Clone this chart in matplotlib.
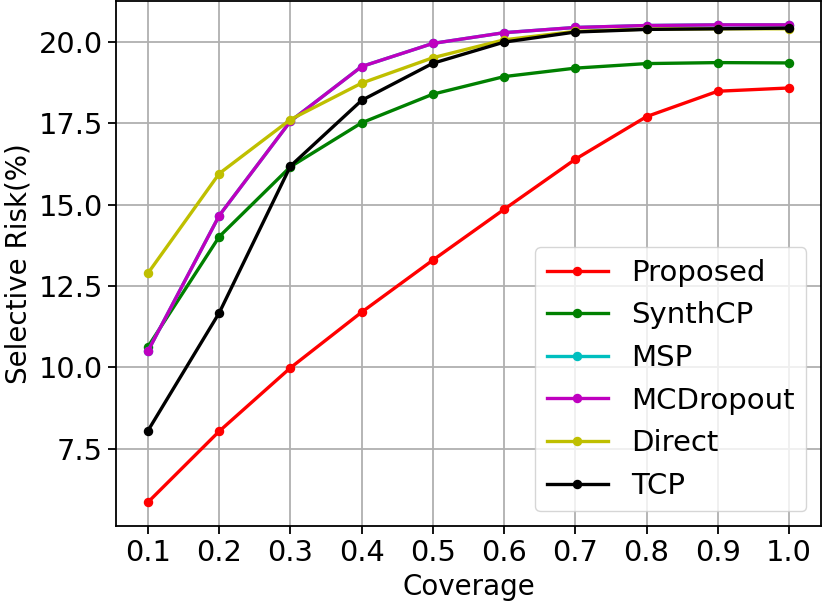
import matplotlib
matplotlib.use("Agg")
import matplotlib.pyplot as plt
import numpy as np

coverage = [0.1, 0.2, 0.3, 0.4, 0.5, 0.6, 0.7, 0.8, 0.9, 1.0]
proposed = [5.86, 8.04, 9.99, 11.70, 13.30, 14.86, 16.40, 17.71, 18.49, 18.59]
synthcp = [10.64, 14.02, 16.17, 17.52, 18.40, 18.94, 19.20, 19.34, 19.37, 19.36]
msp = [10.51, 14.67, 17.57, 19.25, 19.96, 20.29, 20.45, 20.51, 20.53, 20.53]
mcdropout = [10.51, 14.67, 17.57, 19.25, 19.96, 20.29, 20.45, 20.51, 20.53, 20.53]
direct = [12.90, 15.96, 17.62, 18.74, 19.52, 20.07, 20.33, 20.40, 20.41, 20.41]
tcp = [8.06, 11.68, 16.19, 18.21, 19.35, 20.00, 20.31, 20.39, 20.41, 20.43]

series = [
    ("Proposed", proposed, "r"),
    ("SynthCP", synthcp, "g"),
    ("MSP", msp, "c"),
    ("MCDropout", mcdropout, "m"),
    ("Direct", direct, "y"),
    ("TCP", tcp, "k"),
]

plt.rcParams['font.family'] = ['DejaVu Sans']
plt.rcParams['font.size'] = 20
fig = plt.figure(figsize=(8.22, 6.05), dpi=100)
ax = fig.add_axes([116/822, 1 - 526/605, (821-116)/822, (526-1)/605])

for name, vals, col in series:
    ax.plot(coverage, vals, color=col, marker='o', lw=2.4, ms=5.8, label=name)

ax.set_xticks(coverage)
ax.set_xticklabels([f"{c:.1f}" for c in coverage])
ax.set_yticks([7.5, 10.0, 12.5, 15.0, 17.5, 20.0])
ax.set_yticklabels(["7.5", "10.0", "12.5", "15.0", "17.5", "20.0"])
ax.grid(True, color='#b0b0b0', lw=1.3)
ax.set_axisbelow(True)
ax.set_xlabel("Coverage", labelpad=4)
ax.set_ylabel("Selective Risk(%)")
for s in ax.spines.values():
    s.set_linewidth(1.3)
ax.tick_params(width=1.3, length=6, labelsize=20.8)
ax.legend(loc='lower right', fontsize=21.0, handlelength=2.1, borderaxespad=0.5)

fig.savefig("out.png", dpi=100)
